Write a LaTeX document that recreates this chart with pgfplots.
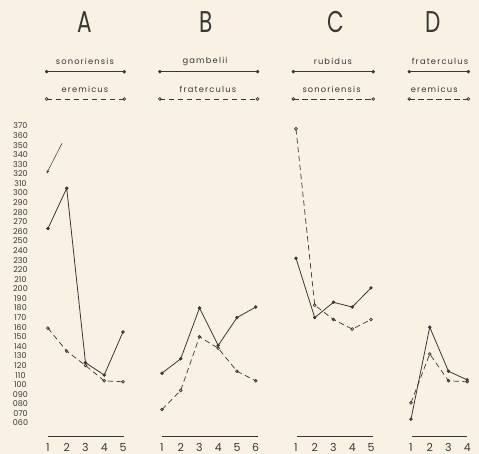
\documentclass[border=0pt]{standalone}
\usepackage{fontspec}
\setmainfont{Poppins}
\newfontfamily\lsfont{Poppins}[LetterSpace=14]
\usepackage{pgfplots}
\pgfplotsset{compat=1.18}
\usetikzlibrary{arrows.meta}
\definecolor{bg}{HTML}{F9F1E3}
\definecolor{ink}{HTML}{383838}
\pgfplotsset{
  panel/.style={x=18.75pt, y=0.958pt, xmin=0.5, xmax=#1+0.5, ymin=30, ymax=490,
    hide axis, clip=false, anchor=south west},
  solidser/.style={ink, line width=0.8pt, mark=*, mark size=1.3pt, mark options={fill=ink}},
  dashser/.style={ink, line width=0.7pt, dash pattern=on 5.5pt off 3.5pt, mark=o, mark size=1.4pt, mark options={solid, fill=bg}},
  rule/.style={ink, line width=0.8pt, no marks},
}
\newcommand{\ttl}[1]{\scalebox{0.72}[1]{\fontsize{30}{30}\selectfont #1}}
\newcommand{\lab}{\lsfont\fontsize{8.3}{9}\selectfont}
\newcommand{\xtl}{\fontsize{11}{11}\selectfont}
\newcommand{\ytl}{\fontsize{8}{8}\selectfont}
\begin{document}
\begin{tikzpicture}
\fill[bg] (0,0) rectangle (479pt,454pt);
\useasboundingbox (0,0) rectangle (479pt,454pt);

% ---------- Panel A ----------
\begin{axis}[panel=5, at={(38.6pt,2.28pt)}]
\node[ink] at (axis cs:2.97,478.9) {\ttl{A}};
\node[ink,font=\lab] at (axis cs:2.97,437.8) {sonoriensis};
\addplot[solidser] coordinates {(0.93,426.7) (5.07,426.7)};
\node[ink,font=\lab] at (axis cs:2.97,408.6) {eremicus};
\addplot[dashser] coordinates {(0.93,398.2) (5.07,398.2)};
\addplot[solidser] coordinates {(1,263) (2,305) (3,123) (4,110) (5,155)};
\addplot[dashser] coordinates {(1,159) (2,135) (3,120) (4,104) (5,103)};
\addplot[rule] coordinates {(1.02,46.4) (5.05,46.4)};
\pgfplotsinvokeforeach{1,...,5}{\node[ink,font=\xtl] at (axis cs:#1,34.5) {#1};}
\pgfplotsinvokeforeach{370,360,...,100}{\node[ink,font=\ytl] at (axis cs:-0.467,#1) {#1};}
\pgfplotsinvokeforeach{90,80,70,60}{\node[ink,font=\ytl] at (axis cs:-0.467,#1) {0#1};}
\draw[ink, line width=0.5pt, -{Stealth[length=3.5pt,width=3pt]}] (axis cs:1.75,352) -- (axis cs:0.93,320.6);
\end{axis}

% ---------- Panel B ----------
\begin{axis}[panel=6, at={(152.6pt,2.28pt)}]
\node[ink] at (axis cs:3.38,478.9) {\ttl{B}};
\node[ink,font=\lab] at (axis cs:3.3,437.8) {gambelii};
\addplot[solidser] coordinates {(0.89,426.7) (6.1,426.7)};
\node[ink,font=\lab] at (axis cs:3.45,408.6) {fraterculus};
\addplot[dashser] coordinates {(0.89,398.2) (6.1,398.2)};
\addplot[solidser] coordinates {(1,112) (2,127) (3,180) (4,141) (5,170) (6,181)};
\addplot[dashser] coordinates {(1,74) (2,94) (3,150) (4,138) (5,114) (6,104)};
\addplot[rule] coordinates {(1,46.4) (6.12,46.4)};
\pgfplotsinvokeforeach{1,...,6}{\node[ink,font=\xtl] at (axis cs:#1,34.5) {#1};}
\end{axis}

% ---------- Panel C ----------
\begin{axis}[panel=5, at={(286.6pt,2.28pt)}]
\node[ink] at (axis cs:3.12,478.9) {\ttl{C}};
\node[ink,font=\lab] at (axis cs:2.97,437.8) {rubidus};
\addplot[solidser] coordinates {(0.86,426.7) (5.12,426.7)};
\node[ink,font=\lab] at (axis cs:2.9,408.6) {sonoriensis};
\addplot[dashser] coordinates {(0.86,398.2) (5.12,398.2)};
\addplot[solidser] coordinates {(1,232) (2,170) (3,186) (4,181) (5,201)};
\addplot[dashser] coordinates {(1,367) (2,183) (3,168) (4,158) (5,168)};
\addplot[rule] coordinates {(1.05,46.4) (5.1,46.4)};
\pgfplotsinvokeforeach{1,...,5}{\node[ink,font=\xtl] at (axis cs:#1,34.5) {#1};}
\end{axis}

% ---------- Panel D ----------
\begin{axis}[panel=4, at={(401.6pt,2.28pt)}]
\node[ink] at (axis cs:2.19,478.9) {\ttl{D}};
\node[ink,font=\lab] at (axis cs:2.55,437.8) {fraterculus};
\addplot[solidser] coordinates {(0.91,426.7) (4.06,426.7)};
\node[ink,font=\lab] at (axis cs:2.24,408.6) {eremicus};
\addplot[dashser] coordinates {(0.91,398.2) (4.06,398.2)};
\addplot[solidser] coordinates {(1,64) (2,160) (3,114) (4,105)};
\addplot[dashser] coordinates {(1,81) (2,132) (3,104) (4,103)};
\addplot[rule] coordinates {(1.05,46.4) (3.99,46.4)};
\pgfplotsinvokeforeach{1,...,4}{\node[ink,font=\xtl] at (axis cs:#1,34.5) {#1};}
\end{axis}
\end{tikzpicture}
\end{document}
